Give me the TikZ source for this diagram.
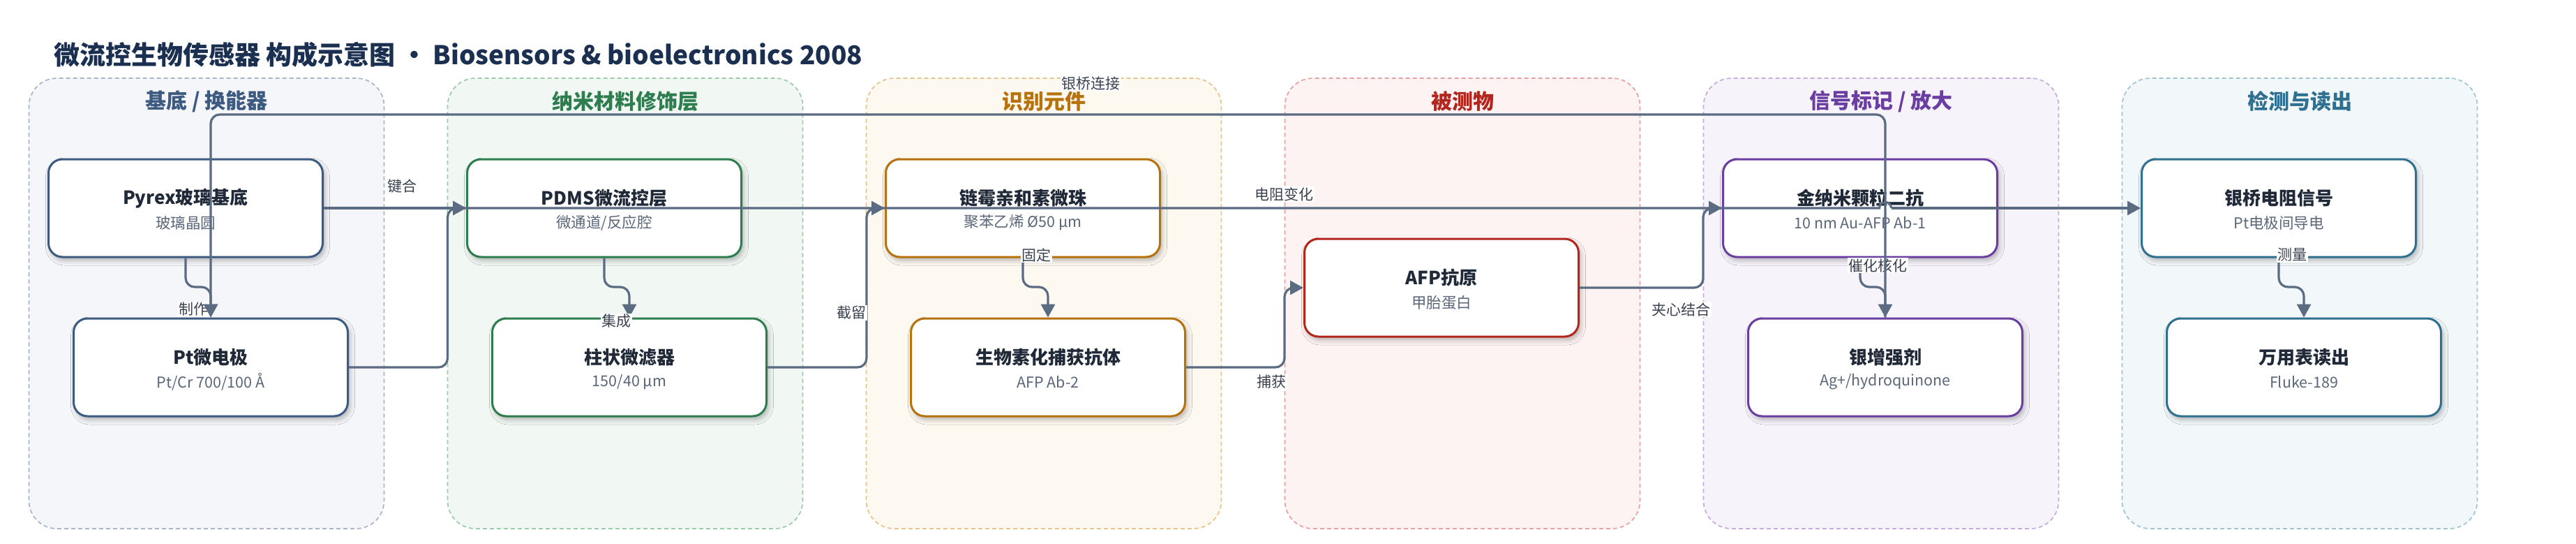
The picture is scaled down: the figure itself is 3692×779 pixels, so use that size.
\documentclass[tikz,border=0pt]{standalone}
\usepackage{fontspec}
\setmainfont{Noto Sans CJK SC}
\usetikzlibrary{arrows.meta,shadows.blur}

\definecolor{bdA}{HTML}{3D5A80}\definecolor{dsA}{HTML}{A9B6C9}\definecolor{fiA}{HTML}{F4F6FA}
\definecolor{bdB}{HTML}{2E7D4F}\definecolor{dsB}{HTML}{9CCBAE}\definecolor{fiB}{HTML}{F1F8F3}
\definecolor{bdC}{HTML}{B8720C}\definecolor{dsC}{HTML}{E9C48C}\definecolor{fiC}{HTML}{FDF8F0}
\definecolor{bdD}{HTML}{B3261E}\definecolor{dsD}{HTML}{E8A3A0}\definecolor{fiD}{HTML}{FDF3F2}
\definecolor{bdE}{HTML}{6A3EA1}\definecolor{dsE}{HTML}{C4AEE0}\definecolor{fiE}{HTML}{F6F3FB}
\definecolor{bdF}{HTML}{2F6F8F}\definecolor{dsF}{HTML}{A0C4D2}\definecolor{fiF}{HTML}{F2F7F9}
\definecolor{edgec}{HTML}{5A6B82}
\definecolor{titlec}{HTML}{1B3050}
\definecolor{ntc}{HTML}{1F2937}
\definecolor{nsc}{HTML}{5B6778}
\definecolor{lblc}{HTML}{3A4250}

\tikzset{
  grp/.style 2 args={draw=#1, fill=#2, line width=1.7pt, dash pattern=on 6pt off 4pt,
    rounded corners=40pt, minimum width=509pt, minimum height=645pt, inner sep=0pt},
  gtitle/.style={text=#1, font=\fontsize{30}{34}\selectfont\bfseries, inner sep=0pt},
  box/.style={draw=#1, fill=white, line width=3pt, rounded corners=20pt,
    minimum width=393pt, minimum height=140pt, inner sep=0pt,
    blur shadow={shadow xshift=3pt, shadow yshift=-5pt, shadow blur radius=7pt, shadow opacity=28}},
  ntitle/.style={text=ntc, font=\fontsize{26}{30}\selectfont\bfseries, inner sep=0pt},
  nsub/.style={text=nsc, font=\fontsize{21.5}{25}\selectfont, inner sep=0pt},
  conn/.style={draw=edgec, line width=3.2pt, rounded corners=13pt,
    -{Triangle[length=19pt,width=20pt]}},
  plain/.style={draw=edgec, line width=3.2pt},
  lbl/.style={fill=white, text=lblc, font=\fontsize{21}{24}\selectfont, inner sep=1.5pt},
}

\newcommand\mkbox[6]{%
  \node[box=#4] (#1) at (#2,#3) {};
  \node[ntitle] (#1-t) at ([yshift=14pt]#1.center) {#5};
  \node[nsub] (#1-s) at ([yshift=-21pt]#1.center) {#6};
}

\begin{document}
\begin{tikzpicture}[x=1pt,y=-1pt]
\useasboundingbox[fill=white] (0,0) rectangle (3692,779);

% title
\node[anchor=west, text=titlec, font=\fontsize{37}{42}\selectfont\bfseries, inner sep=0pt] (title) at (77,78)
  {微流控生物传感器 构成示意图 · Biosensors \& bioelectronics 2008};

% groups
\node[grp={dsA}{fiA}] (g1) at (296,434.5) {};
\node[grp={dsB}{fiB}] (g2) at (896,434.5) {};
\node[grp={dsC}{fiC}] (g3) at (1496,434.5) {};
\node[grp={dsD}{fiD}] (g4) at (2096,434.5) {};
\node[grp={dsE}{fiE}] (g5) at (2696,434.5) {};
\node[grp={dsF}{fiF}] (g6) at (3296,434.5) {};

\node[gtitle=bdA] (g1t) at (296,145.5) {基底 / 换能器};
\node[gtitle=bdB] (g2t) at (896,145.5) {纳米材料修饰层};
\node[gtitle=bdC] (g3t) at (1496,145.5) {识别元件};
\node[gtitle=bdD] (g4t) at (2096,145.5) {被测物};
\node[gtitle=bdE] (g5t) at (2696,145.5) {信号标记 / 放大};
\node[gtitle=bdF] (g6t) at (3296,145.5) {检测与读出};

% nodes
\mkbox{pyrex}{266}{298}{bdA}{Pyrex玻璃基底}{玻璃晶圆}
\mkbox{pt}{302}{526}{bdA}{Pt微电极}{Pt/Cr 700/100 Å}
\mkbox{pdms}{866}{298}{bdB}{PDMS微流控层}{微通道/反应腔}
\mkbox{filt}{902}{526}{bdB}{柱状微滤器}{150/40 µm}
\mkbox{bead}{1466}{298}{bdC}{链霉亲和素微珠}{聚苯乙烯 Ø50 µm}
\mkbox{cab}{1502}{526}{bdC}{生物素化捕获抗体}{AFP Ab-2}
\mkbox{afp}{2066}{412}{bdD}{AFP抗原}{甲胎蛋白}
\mkbox{gold}{2666}{298}{bdE}{金纳米颗粒二抗}{10 nm Au-AFP Ab-1}
\mkbox{silv}{2702}{526}{bdE}{银增强剂}{Ag+/hydroquinone}
\mkbox{brg}{3266}{298}{bdF}{银桥电阻信号}{Pt电极间导电}
\mkbox{dmm}{3302}{526}{bdF}{万用表读出}{Fluke-189}

% short connectors
\draw[conn] (pyrex.south) -- (266,411) -- (302,411) -- (pt.north);
\draw[conn] (pyrex.east) -- (pdms.west);
\draw[conn] (pt.east) -- (641.5,526) -- (641.5,298) -- (pdms.west);
\draw[conn] (pdms.south) -- (866,411) -- (902,411) -- (filt.north);
\draw[conn] (filt.east) -- (1242,526) -- (1242,298) -- (bead.west);
\draw[conn] (bead.south) -- (1466,411) -- (1502,411) -- (cab.north);
\draw[conn] (cab.east) -- (1841,526) -- (1841,412) -- (afp.west);
\draw[conn] (afp.east) -- (2441,412) -- (2441,298) -- (gold.west);
\draw[conn] (gold.south) -- (2666,411) -- (2702,411) -- (silv.north);
\draw[conn] (brg.south) -- (3266,411) -- (3302,411) -- (dmm.north);

% labels
\node[lbl] (l1) at (277,443) {制作};
\node[lbl] (l2) at (576,267) {键合};
\node[lbl] (l3) at (883,460) {集成};
\node[lbl] (l4) at (1220,448) {截留};
\node[lbl] (l5) at (1485,365) {固定};
\node[lbl] (l6) at (1822,547) {捕获};
\node[lbl] (l7) at (1840,278) {电阻变化};
\node[lbl] (l8) at (2409,443) {夹心结合};
\node[lbl] (l9) at (2691,380) {催化核化};
\node[lbl] (l10) at (1563,119.5) {银桥连接};
\node[lbl] (l11) at (3285,365) {测量};

% long connectors on top
\draw[conn] (silv.north) -- (2702,164) -- (302,164) -- (pt.north);
\coordinate (hopA) at (2693.5,298);
\coordinate (hopB) at (2710.5,298);
\draw[plain] (pyrex.east) -- (hopA) .. controls (2693.5,286.7) and (2710.5,286.7) .. (hopB);
\draw[conn, rounded corners=0pt] (hopB) -- (brg.west);
\end{tikzpicture}
\end{document}
